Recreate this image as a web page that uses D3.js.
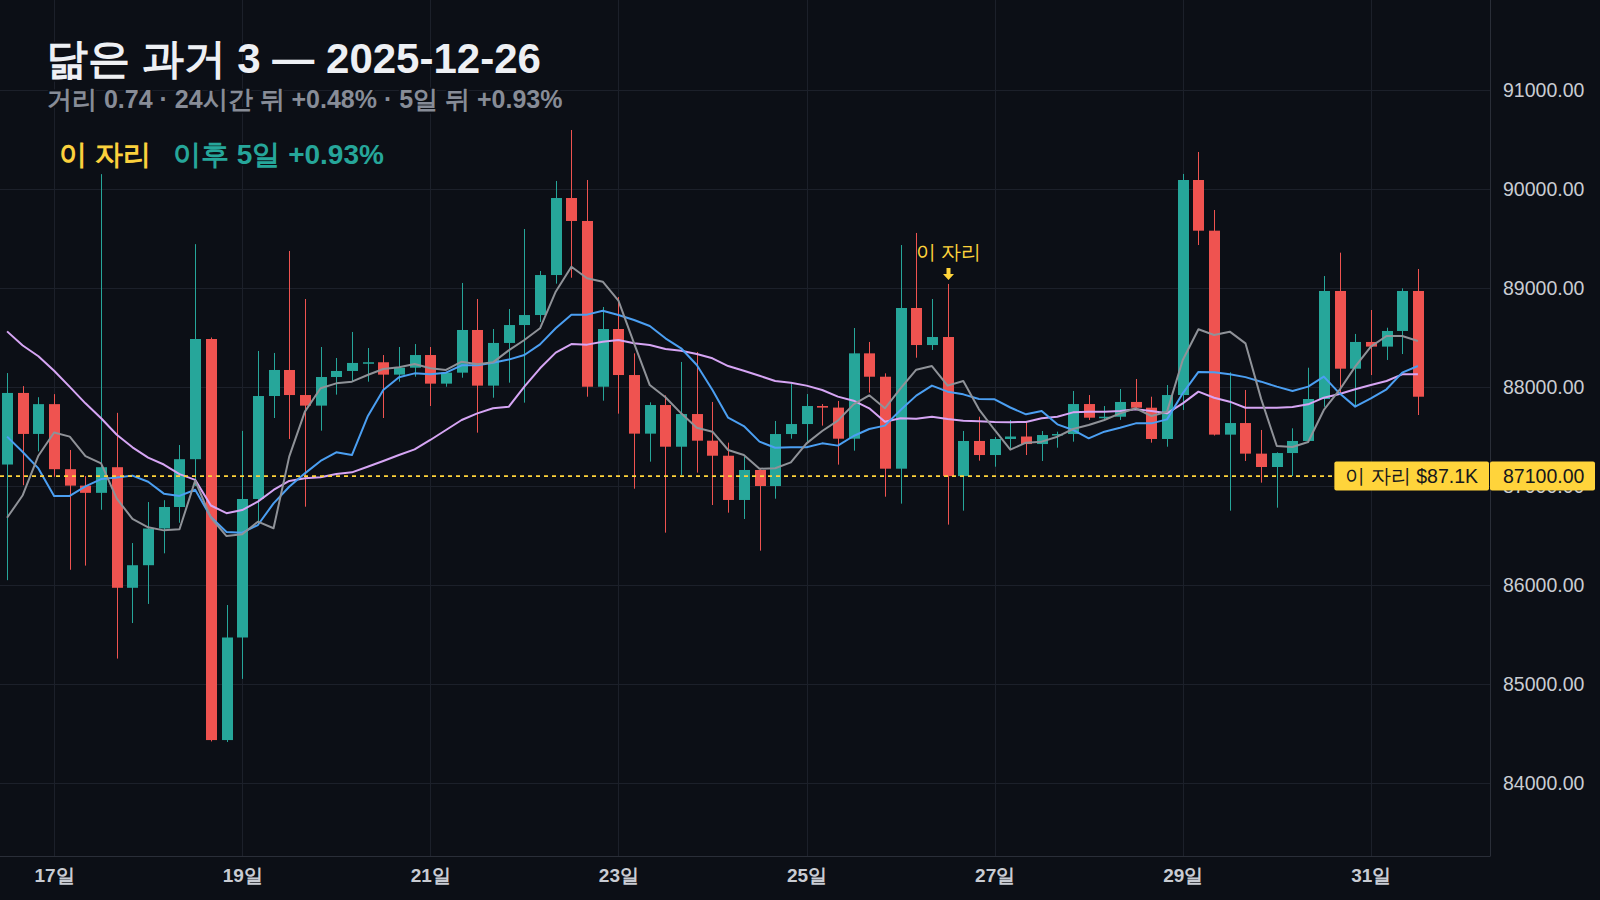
<!DOCTYPE html>
<html>
<head>
<meta charset="utf-8">
<script src="https://cdn.jsdelivr.net/npm/d3@7"></script>
<style>
  body { margin: 0; background: #0c0f16; }
  svg { display: block; }
  text { font-family: sans-serif; }
</style>
</head>
<body>
<div id="chart"></div>
<script>
const WIDTH = 1600;
const HEIGHT = 900;
const PLOT = { left: 0, top: 0, right: 1490, bottom: 856 };
const BG_COLOR = '#0c0f16';
const GRID_COLOR = '#1c202a';
const AXIS_COLOR = '#2a2e38';
const UP_COLOR = '#26a69a';
const DOWN_COLOR = '#ef5350';
const MARK_COLOR = '#ffd43b';
const BODY_WIDTH = 11;

// 4h candles, the first one opens Dec 16 12:00 (UTC)
const START = Date.UTC(2025, 11, 16, 12);
const STEP = 4 * 3600 * 1000;

const OPEN = [
  87217, 87940, 87526, 87827, 87170, 87004, 86931, 87190, 85972, 86200,
  86571, 86788, 87271, 88485, 84434, 85470, 86869, 87909, 88172, 87919,
  87812, 88101, 88162, 88243, 88250, 88125, 88195, 88323, 88034, 88145,
  88576, 88014, 88445, 88626, 88727, 89131, 89909, 89677, 88003, 88586,
  88121, 87529, 87818, 87397, 87727, 87458, 87306, 86859, 87162, 87000,
  87525, 87626, 87808, 87792, 87478, 88340, 88104, 87175, 88798, 88424,
  88505, 87100, 87455, 87313, 87475, 87500, 87424, 87515, 87525, 87828,
  87690, 87700, 87849, 87791, 87475, 87919, 90091, 89579, 87519, 87636,
  87327, 87192, 87333, 87455, 87879, 88970, 88185, 88455, 88408, 88566,
  88970
];
const HIGH = [
  88141, 88009, 87897, 87928, 87364, 87101, 90150, 87739, 86424, 86838,
  86857, 87414, 89443, 88500, 85798, 87557, 88364, 88344, 89374, 88889,
  88404, 88293, 88556, 88394, 88323, 88404, 88434, 88404, 88150, 89051,
  88889, 88586, 88788, 89596, 89172, 90081, 90596, 90091, 88808, 88909,
  88340, 87845, 87916, 88253, 88354, 87849, 87438, 87296, 87170, 87657,
  88030, 87929, 87828, 87859, 88596, 88455, 88138, 89434, 89556, 88889,
  89041, 87556, 87700, 87495, 87667, 87643, 87556, 87549, 87960, 87919,
  87808, 87980, 88081, 87902, 88020, 90152, 90374, 89788, 88148, 87970,
  87566, 87340, 87583, 88195, 89121, 89357, 88536, 88778, 88599, 88997,
  89192
];
const LOW = [
  86049, 87008, 87350, 87093, 86154, 86196, 86760, 85257, 85616, 85809,
  86320, 86629, 87000, 84420, 84414, 85052, 86640, 87687, 87475, 86791,
  87559, 87923, 88054, 88054, 87687, 88054, 88104, 87808, 88003, 88094,
  87539, 87892, 88044, 87842, 88657, 89044, 89104, 87902, 87862, 87731,
  86973, 87246, 86529, 87111, 87135, 86808, 86731, 86667, 86347, 86872,
  87478, 87431, 87610, 87216, 87357, 87943, 86892, 86822, 88296, 88374,
  86610, 86751, 87256, 87195, 87381, 87313, 87253, 87387, 87448, 87667,
  87670, 87667, 87768, 87438, 87397, 87768, 89434, 87510, 86751, 87253,
  87034, 86781, 87101, 87440, 87800, 87936, 87818, 88121, 88273, 88333,
  87717
];
const CLOSE = [
  87940, 87526, 87827, 87170, 87004, 86931, 87190, 85972, 86200, 86571,
  86788, 87271, 88485, 84434, 85470, 86869, 87909, 88172, 87919, 87812,
  88101, 88162, 88243, 88250, 88125, 88195, 88323, 88034, 88145, 88576,
  88014, 88445, 88626, 88727, 89131, 89909, 89677, 88003, 88586, 88121,
  87529, 87818, 87397, 87727, 87458, 87306, 86859, 87162, 87000, 87525,
  87626, 87808, 87792, 87478, 88340, 88104, 87175, 88798, 88424, 88505,
  87100, 87455, 87313, 87475, 87500, 87424, 87515, 87525, 87828, 87690,
  87700, 87849, 87791, 87475, 87919, 90091, 89579, 87519, 87636, 87327,
  87192, 87333, 87455, 87879, 88970, 88185, 88455, 88408, 88566, 88970,
  87902
];

// moving averages (gray / blue / lavender)
const MA_SHORT = [
  86679, 86907, 87306, 87541, 87499, 87302, 87228, 86873, 86668, 86583,
  86552, 86563, 87054, 86680, 86494, 86513, 86640, 86573, 87297, 87751,
  87987, 88037, 88054, 88121, 88182, 88199, 88232, 88189, 88172, 88256,
  88229, 88249, 88370, 88475, 88593, 88963, 89215, 89098, 89064, 88872,
  88441, 88020, 87896, 87734, 87589, 87549, 87364, 87313, 87175, 87179,
  87239, 87431, 87556, 87660, 87825, 87916, 87785, 87987, 88175, 88212,
  88014, 88061, 87775, 87566, 87367, 87438, 87448, 87498, 87576, 87616,
  87667, 87734, 87785, 87707, 87751, 88273, 88583, 88525, 88559, 88441,
  87880, 87404, 87394, 87445, 87768, 87970, 88206, 88408, 88515, 88515,
  88465
];
const MA_MID = [
  87499, 87344, 87178, 86900, 86900, 86996, 87070, 87085, 87105, 87043,
  86923, 86900, 86962, 86687, 86536, 86529, 86606, 86825, 86993, 87128,
  87253, 87340, 87313, 87701, 87970, 88098, 88138, 88128, 88145, 88219,
  88219, 88246, 88277, 88323, 88431, 88593, 88731, 88731, 88771, 88727,
  88677, 88616, 88492, 88391, 88222, 87970, 87690, 87606, 87448, 87387,
  87391, 87391, 87431, 87408, 87505, 87576, 87610, 87768, 87913, 88014,
  87953, 87926, 87879, 87876, 87793, 87724, 87758, 87623, 87566, 87482,
  87549, 87589, 87633, 87633, 87673, 87936, 88152, 88148, 88128, 88100,
  88054, 88004, 87960, 88004, 88105, 87936, 87802, 87886, 87977, 88145,
  88212
];
const MA_LONG = [
  88562, 88419, 88311, 88164, 88001, 87835, 87684, 87518, 87391, 87286,
  87217, 87120, 87062, 86803, 86726, 86757, 86842, 86960, 87051, 87078,
  87088, 87121, 87138, 87195, 87253, 87313, 87370, 87465, 87566, 87667,
  87734, 87785, 87800, 88003, 88189, 88347, 88434, 88428, 88458, 88475,
  88441, 88424, 88384, 88367, 88334, 88290, 88212, 88165, 88113, 88061,
  88044, 88014, 87970, 87903, 87862, 87785, 87650, 87684, 87680, 87700,
  87677, 87660, 87653, 87647, 87645, 87647, 87684, 87700, 87744, 87751,
  87751, 87758, 87775, 87758, 87734, 87835, 87953, 87892, 87852, 87791,
  87791, 87791, 87798, 87825, 87892, 87929, 87977, 88020, 88061, 88128,
  88128
];

const PRICE_TICKS = [84000, 85000, 86000, 87000, 88000, 89000, 90000, 91000];
const DAY_TICKS = ['2025-12-17', '2025-12-19', '2025-12-21', '2025-12-23',
                   '2025-12-25', '2025-12-27', '2025-12-29', '2025-12-31'];

const MARK_INDEX = 60;
const MARK_PRICE = 87100;
const TITLE = '닮은 과거 3 — 2025-12-26';
const SUBTITLE = '거리 0.74 · 24시간 뒤 +0.48% · 5일 뒤 +0.93%';
const LEGEND_MARK = '이 자리';
const LEGEND_AFTER = '이후 5일 +0.93%';
const MARK_TEXT = '이 자리';
const MARK_BOX_TEXT = '이 자리 $87.1K';

const candles = OPEN.map((o, i) => ({
  time: new Date(START + i * STEP),
  open: o, high: HIGH[i], low: LOW[i], close: CLOSE[i]
}));

const x = d3.scaleUtc()
  .domain([new Date(START - 0.45 * STEP), new Date(START + 94.6 * STEP)])
  .range([PLOT.left, PLOT.right]);
const y = d3.scaleLinear()
  .domain([83263, 91909])
  .range([PLOT.bottom, PLOT.top]);
const px = t => Math.round(x(t));

const svg = d3.select('#chart').append('svg')
  .attr('width', WIDTH)
  .attr('height', HEIGHT)
  .style('background', BG_COLOR);

// grid
svg.append('g').selectAll('line')
  .data(PRICE_TICKS)
  .join('line')
    .attr('x1', PLOT.left).attr('x2', PLOT.right)
    .attr('y1', d => Math.round(y(d)) + 0.5).attr('y2', d => Math.round(y(d)) + 0.5)
    .attr('stroke', GRID_COLOR);
const dayDates = DAY_TICKS.map(d => new Date(d + 'T00:00:00Z'));
svg.append('g').selectAll('line')
  .data(dayDates)
  .join('line')
    .attr('x1', d => px(d) + 0.5).attr('x2', d => px(d) + 0.5)
    .attr('y1', PLOT.top).attr('y2', PLOT.bottom)
    .attr('stroke', GRID_COLOR);

// candles
const candleG = svg.append('g');
const colorOf = d => d.close >= d.open ? UP_COLOR : DOWN_COLOR;
candleG.selectAll('line')
  .data(candles)
  .join('line')
    .attr('x1', d => px(d.time) + 0.5).attr('x2', d => px(d.time) + 0.5)
    .attr('y1', d => y(d.high)).attr('y2', d => y(d.low))
    .attr('stroke', colorOf);
candleG.selectAll('rect')
  .data(candles)
  .join('rect')
    .attr('x', d => px(d.time) - (BODY_WIDTH - 1) / 2)
    .attr('width', BODY_WIDTH)
    .attr('y', d => y(Math.max(d.open, d.close)))
    .attr('height', d => Math.max(1.5, Math.abs(y(d.open) - y(d.close))))
    .attr('fill', colorOf);

// moving averages
const maLine = d3.line()
  .x((v, i) => x(candles[i].time))
  .y(v => y(v));
[[MA_LONG, '#d6a5f4'], [MA_MID, '#4b9ff2'], [MA_SHORT, '#8f9298']].forEach(([series, color]) => {
  svg.append('path')
    .datum(series)
    .attr('d', maLine)
    .attr('fill', 'none')
    .attr('stroke', color)
    .attr('stroke-width', 2)
    .attr('stroke-linejoin', 'round');
});

// price axis on the right
const yAxis = svg.append('g')
  .attr('transform', `translate(${PLOT.right}, 0)`)
  .call(d3.axisRight(y).tickValues(PRICE_TICKS).tickFormat(d3.format('.2f')).tickSize(0).tickPadding(13));
yAxis.select('.domain').remove();
yAxis.selectAll('text')
  .attr('fill', '#c9ccd3')
  .style('font-family', 'sans-serif')
  .style('font-size', '19.5px');

// time axis
const xAxis = svg.append('g')
  .attr('transform', `translate(0, ${PLOT.bottom})`)
  .call(d3.axisBottom(x).tickValues(dayDates).tickFormat(d => d.getUTCDate() + '일').tickSize(0));
xAxis.select('.domain').remove();
xAxis.selectAll('text')
  .attr('y', 26).attr('dy', null)
  .attr('fill', '#c9ccd3')
  .style('font-family', 'sans-serif')
  .style('font-size', '19px')
  .style('font-weight', 'bold');

svg.append('line')
  .attr('x1', 0).attr('x2', PLOT.right + 0.5)
  .attr('y1', PLOT.bottom + 0.5).attr('y2', PLOT.bottom + 0.5)
  .attr('stroke', AXIS_COLOR);
svg.append('line')
  .attr('x1', PLOT.right + 0.5).attr('x2', PLOT.right + 0.5)
  .attr('y1', 0).attr('y2', PLOT.bottom)
  .attr('stroke', AXIS_COLOR);

// "this spot" price line with its labels
const markY = y(MARK_PRICE);
const boxText = svg.append('text')
  .attr('y', markY).attr('dy', '0.35em')
  .attr('fill', '#15171c')
  .style('font-size', '19.5px')
  .text(MARK_BOX_TEXT);
const boxTextW = boxText.node().getComputedTextLength();
const boxLeft = PLOT.right - 1 - boxTextW - 22;

svg.append('line')
  .attr('x1', PLOT.left).attr('x2', boxLeft)
  .attr('y1', markY).attr('y2', markY)
  .attr('stroke', MARK_COLOR)
  .attr('stroke-width', 1.6)
  .attr('stroke-dasharray', '4 4');

svg.insert('rect', () => boxText.node())
  .attr('x', boxLeft).attr('y', markY - 14.5)
  .attr('width', PLOT.right - 1 - boxLeft).attr('height', 29)
  .attr('rx', 2)
  .attr('fill', MARK_COLOR);
boxText.attr('x', boxLeft + 11);

svg.append('rect')
  .attr('x', PLOT.right).attr('y', markY - 14.5)
  .attr('width', 105).attr('height', 29)
  .attr('rx', 2)
  .attr('fill', MARK_COLOR);
svg.append('text')
  .attr('x', PLOT.right + 13).attr('y', markY).attr('dy', '0.35em')
  .attr('fill', '#15171c')
  .style('font-size', '19.5px')
  .text(d3.format('.2f')(MARK_PRICE));

// marker above the candle
const mark = candles[MARK_INDEX];
const mx = px(mark.time) + 0.5;
const tipY = y(mark.high) - 4;
svg.append('path')
  .attr('d', `M${mx - 2},${tipY - 12} h4 v6 h3.5 L${mx},${tipY} L${mx - 5.5},${tipY - 6} h3.5 Z`)
  .attr('fill', MARK_COLOR);
svg.append('text')
  .attr('x', mx).attr('y', tipY - 21)
  .attr('text-anchor', 'middle')
  .attr('fill', MARK_COLOR)
  .style('font-size', '20px')
  .text(MARK_TEXT);

// header
const header = svg.append('g')
  .style('paint-order', 'stroke')
  .attr('stroke', BG_COLOR)
  .attr('stroke-width', 4)
  .attr('stroke-linejoin', 'round');
header.append('text')
  .attr('x', 46).attr('y', 73)
  .attr('fill', '#eef0f4')
  .style('font-size', '42px').style('font-weight', 'bold')
  .text(TITLE);
header.append('text')
  .attr('x', 47).attr('y', 108)
  .attr('fill', '#878c97')
  .style('font-size', '25px').style('font-weight', 'bold')
  .text(SUBTITLE);
header.append('text')
  .attr('x', 59).attr('y', 164)
  .attr('fill', '#fbd13d')
  .style('font-size', '28px').style('font-weight', 'bold')
  .text(LEGEND_MARK);
header.append('text')
  .attr('x', 173).attr('y', 164)
  .attr('fill', UP_COLOR)
  .style('font-size', '28px').style('font-weight', 'bold')
  .text(LEGEND_AFTER);
</script>
</body>
</html>
